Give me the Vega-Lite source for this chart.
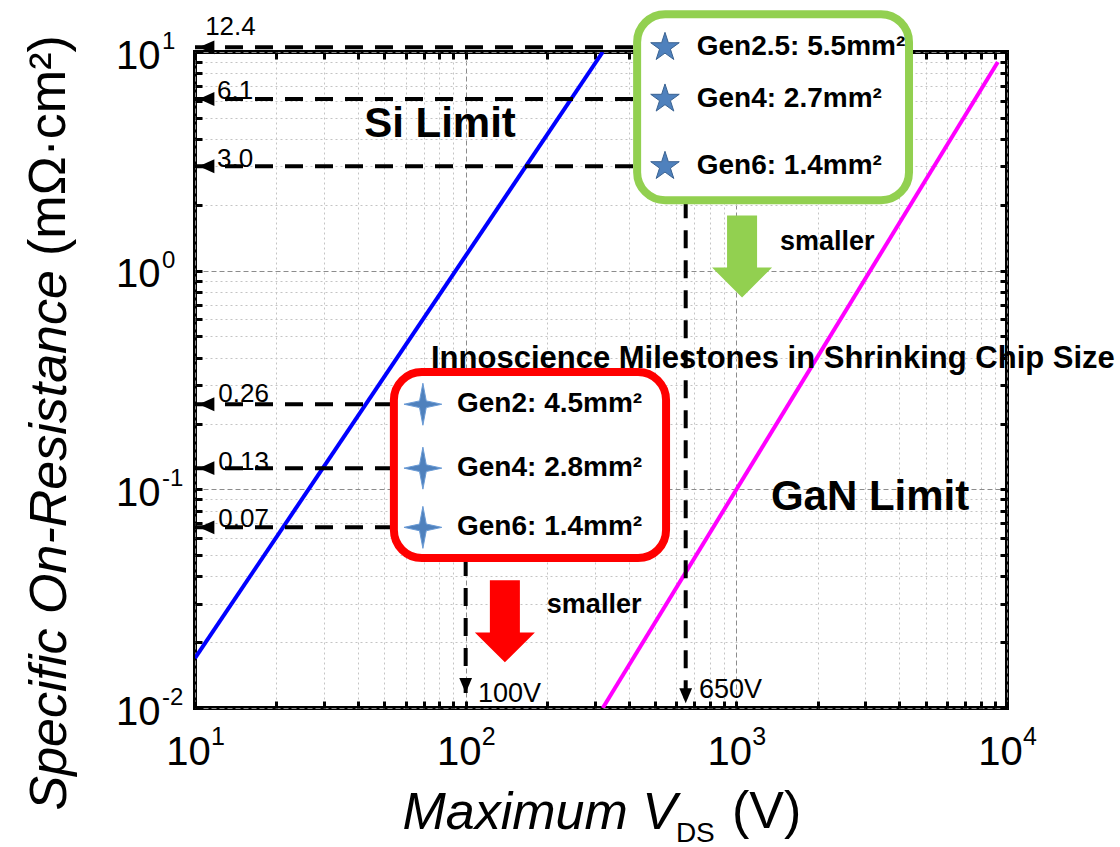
{
  "$schema": "https://vega.github.io/schema/vega-lite/v6.json",
  "width": 812,
  "height": 656,
  "autosize": {"type": "none"},
  "padding": {"left": 195, "top": 52, "right": 113, "bottom": 139},
  "background": "white",
  "config": {"view": {"stroke": "black", "strokeWidth": 4}, "font": "Liberation Sans"},
  "resolve": {"axis": {"x": "independent", "y": "independent"}},
  "datasets": {
    "si": [{"V": 10, "R": 0.0169}, {"V": 321, "R": 10}],
    "gan": [{"V": 321, "R": 0.01}, {"V": 9250, "R": 9.0}],
    "gens": [
      {"device": "650V", "gen": "Gen2.5: 5.5mm²", "R": 10.5, "Vstart": 10, "Vend": 430, "starV": 545, "textV": 714},
      {"device": "650V", "gen": "Gen4: 2.7mm²", "R": 6.1, "Vstart": 10, "Vend": 430, "starV": 545, "textV": 714},
      {"device": "650V", "gen": "Gen6: 1.4mm²", "R": 3.0, "Vstart": 10, "Vend": 430, "starV": 545, "textV": 714},
      {"device": "100V", "gen": "Gen2: 4.5mm²", "R": 0.245, "Vstart": 10, "Vend": 54.3, "starV": 69.5, "textV": 92.9},
      {"device": "100V", "gen": "Gen4: 2.8mm²", "R": 0.125, "Vstart": 10, "Vend": 54.3, "starV": 69.5, "textV": 92.9},
      {"device": "100V", "gen": "Gen6: 1.4mm²", "R": 0.067, "Vstart": 10, "Vend": 54.3, "starV": 69.5, "textV": 92.9}
    ],
    "vals": [
      {"label": "12.4", "V": 10.9, "R": 11.96},
      {"label": "6.1", "V": 12.06, "R": 6.1},
      {"label": "3.0", "V": 12.06, "R": 2.98},
      {"label": "0.26", "V": 12.2, "R": 0.251},
      {"label": "0.13", "V": 12.2, "R": 0.1227},
      {"label": "0.07", "V": 12.2, "R": 0.0673}
    ],
    "vlines": [
      {"device": "100V", "V": 100, "Rtop": 0.0485, "Rtip": 0.0117},
      {"device": "650V", "V": 650, "Rtop": 2.10, "Rtip": 0.0105}
    ],
    "vlabels": [
      {"label": "100V", "V": 111, "R": 0.01065},
      {"label": "650V", "V": 728, "R": 0.01111}
    ],
    "boxes": [
      {"device": "650V", "V1": 430, "V2": 4345, "R1": 14.9, "R2": 2.10},
      {"device": "100V", "V1": 54.3, "V2": 550, "R1": 0.344, "R2": 0.0485}
    ],
    "arrows": [
      {"device": "650V", "V": 1050, "R": 1.161},
      {"device": "100V", "V": 139.6, "R": 0.0249}
    ],
    "limits": [
      {"text": "Si Limit", "V": 80.4, "R": 4.08},
      {"text": "GaN Limit", "V": 3120, "R": 0.0805}
    ],
    "headline": [
      {"text": "Innoscience Milestones in Shrinking Chip Size", "V": 1365, "R": 0.359}
    ],
    "smaller": [
      {"text": "smaller", "V": 1449, "R": 1.243},
      {"text": "smaller", "V": 199.5, "R": 0.0272}
    ],
    "xexp": [{"V": 10, "e": "1"}, {"V": 100, "e": "2"}, {"V": 1000, "e": "3"}, {"V": 10000, "e": "4"}],
    "yexp": [{"R": 0.01, "e": "-2"}, {"R": 0.1, "e": "-1"}, {"R": 1, "e": "0"}, {"R": 10, "e": "1"}],
    "ytitle": [{"text": "(mΩ·cm²)", "V": 3.31, "R": 1.167}],
    "xsub": [{"text": "DS", "V": 598, "R": 0.00244}],
    "xunit": [{"text": "(V)", "V": 963, "R": 0.002825}]
  },
  "layer": [
    {
      "data": {"name": "si"},
      "mark": {"type": "line", "color": "#0000ff", "strokeWidth": 4, "clip": true},
      "encoding": {
        "x": {
          "field": "V", "type": "quantitative",
          "scale": {"type": "log", "domain": [10, 10000], "nice": false},
          "axis": {
            "orient": "bottom",
            "values": [10,20,30,40,50,60,70,80,90,100,200,300,400,500,600,700,800,900,1000,2000,3000,4000,5000,6000,7000,8000,9000,10000],
            "labelExpr": "abs(log(datum.value)/LN10 - round(log(datum.value)/LN10)) < 0.001 ? '10' : ''",
            "labelFont": "Liberation Sans", "labelFontSize": 40, "labelColor": "black",
            "labelPadding": 31, "labelOffset": -7, "labelFlush": false, "labelOverlap": false, "labelBound": false,
            "tickSize": -7,
            "tickWidth": 3, "tickColor": "black",
            "domain": false,
            "grid": true, "gridWidth": 1,
            "gridColor": {"condition": {"test": "abs(log(datum.value)/LN10 - round(log(datum.value)/LN10)) < 0.001", "value": "#8c8c8c"}, "value": "#c4c4c4"},
            "gridDash": {"condition": {"test": "abs(log(datum.value)/LN10 - round(log(datum.value)/LN10)) < 0.001", "value": [5, 3]}, "value": [2, 3]},
            "title": "Maximum V",
            "titleFont": "Liberation Sans", "titleFontSize": 52, "titleFontStyle": "italic", "titleFontWeight": "normal", "titleColor": "black",
            "titleAlign": "left", "titleBaseline": "alphabetic", "titleX": 207, "titleY": 120
          }
        },
        "y": {
          "field": "R", "type": "quantitative",
          "scale": {"type": "log", "domain": [0.01, 10], "nice": false},
          "axis": {
            "orient": "left",
            "values": [0.01,0.02,0.03,0.04,0.05,0.06,0.07,0.08,0.09,0.1,0.2,0.3,0.4,0.5,0.6,0.7,0.8,0.9,1,2,3,4,5,6,7,8,9,10],
            "labelExpr": "abs(log(datum.value)/LN10 - round(log(datum.value)/LN10)) < 0.001 ? '10' : ''",
            "labelFont": "Liberation Sans", "labelFontSize": 40, "labelColor": "black",
            "labelPadding": 42, "labelOffset": 4, "labelFlush": false, "labelOverlap": false, "labelBound": false, "labelBaseline": "middle",
            "tickSize": -7,
            "tickWidth": 3, "tickColor": "black",
            "domain": false,
            "grid": true, "gridWidth": 1,
            "gridColor": {"condition": {"test": "abs(log(datum.value)/LN10 - round(log(datum.value)/LN10)) < 0.001", "value": "#8c8c8c"}, "value": "#c4c4c4"},
            "gridDash": {"condition": {"test": "abs(log(datum.value)/LN10 - round(log(datum.value)/LN10)) < 0.001", "value": [5, 3]}, "value": [2, 3]},
            "title": "Specific On-Resistance",
            "titleFont": "Liberation Sans", "titleFontSize": 52, "titleFontStyle": "italic", "titleFontWeight": "normal", "titleColor": "black",
            "titleAngle": 270, "titleAlign": "left", "titleBaseline": "alphabetic", "titleX": -130, "titleY": 758
          }
        }
      }
    },
    {
      "data": {"name": "gan"},
      "mark": {"type": "line", "color": "#ff00ff", "strokeWidth": 4, "clip": true},
      "encoding": {
        "x": {
          "field": "V", "type": "quantitative",
          "axis": {
            "orient": "top",
            "values": [10,20,30,40,50,60,70,80,90,100,200,300,400,500,600,700,800,900,1000,2000,3000,4000,5000,6000,7000,8000,9000,10000],
            "labels": false, "grid": false, "title": null, "domain": false,
            "tickSize": -7, "tickWidth": 3, "tickColor": "black"
          }
        },
        "y": {
          "field": "R", "type": "quantitative",
          "axis": {
            "orient": "right",
            "values": [0.01,0.02,0.03,0.04,0.05,0.06,0.07,0.08,0.09,0.1,0.2,0.3,0.4,0.5,0.6,0.7,0.8,0.9,1,2,3,4,5,6,7,8,9,10],
            "labels": false, "grid": false, "title": null, "domain": false,
            "tickSize": -7, "tickWidth": 3, "tickColor": "black"
          }
        }
      }
    },
    {
      "data": {"name": "gens"},
      "mark": {"type": "rule", "color": "black", "strokeWidth": 4, "strokeDash": [18, 12]},
      "encoding": {
        "x": {"field": "Vstart", "type": "quantitative", "axis": null},
        "x2": {"field": "Vend"},
        "y": {"field": "R", "type": "quantitative", "axis": null}
      }
    },
    {
      "data": {"name": "gens"},
      "mark": {"type": "point", "shape": "M0.5,0 L2.5,-0.9 L2.5,0.9 Z", "filled": true, "color": "black", "size": 240, "opacity": 1, "strokeWidth": 0},
      "encoding": {
        "x": {"field": "Vstart", "type": "quantitative", "axis": null},
        "y": {"field": "R", "type": "quantitative", "axis": null}
      }
    },
    {
      "data": {"name": "vlines"},
      "mark": {"type": "rule", "color": "black", "strokeWidth": 4, "strokeDash": [18, 12]},
      "encoding": {
        "x": {"field": "V", "type": "quantitative", "axis": null},
        "y": {"field": "Rtop", "type": "quantitative", "axis": null},
        "y2": {"field": "Rtip"}
      }
    },
    {
      "data": {"name": "vlines"},
      "mark": {"type": "point", "shape": "M0,0 L-0.85,-2 L0.85,-2 Z", "filled": true, "color": "black", "size": 225, "opacity": 1, "strokeWidth": 0},
      "encoding": {
        "x": {"field": "V", "type": "quantitative", "axis": null},
        "y": {"field": "Rtip", "type": "quantitative", "axis": null}
      }
    },
    {
      "data": {"name": "boxes"},
      "mark": {"type": "rect", "fill": "white", "strokeWidth": 8, "cornerRadius": 28},
      "encoding": {
        "x": {"field": "V1", "type": "quantitative", "axis": null},
        "x2": {"field": "V2"},
        "y": {"field": "R1", "type": "quantitative", "axis": null},
        "y2": {"field": "R2"},
        "stroke": {"field": "device", "type": "nominal", "scale": {"domain": ["650V", "100V"], "range": ["#92d050", "#ff0000"]}, "legend": null}
      }
    },
    {
      "data": {"name": "gens"},
      "mark": {"type": "text", "align": "left", "baseline": "middle", "font": "Liberation Sans", "fontSize": 28, "fontWeight": "bold", "color": "black"},
      "encoding": {
        "x": {"field": "textV", "type": "quantitative", "axis": null},
        "y": {"field": "R", "type": "quantitative", "axis": null},
        "text": {"field": "gen"}
      }
    },
    {
      "data": {"name": "vals"},
      "mark": {"type": "text", "align": "left", "baseline": "alphabetic", "font": "Liberation Sans", "fontSize": 26, "color": "black"},
      "encoding": {
        "x": {"field": "V", "type": "quantitative", "axis": null},
        "y": {"field": "R", "type": "quantitative", "axis": null},
        "text": {"field": "label"}
      }
    },
    {
      "data": {"name": "vlabels"},
      "mark": {"type": "text", "align": "left", "baseline": "alphabetic", "font": "Liberation Sans", "fontSize": 27, "color": "black"},
      "encoding": {
        "x": {"field": "V", "type": "quantitative", "axis": null},
        "y": {"field": "R", "type": "quantitative", "axis": null},
        "text": {"field": "label"}
      }
    },
    {
      "data": {"name": "limits"},
      "mark": {"type": "text", "align": "center", "baseline": "alphabetic", "font": "Liberation Sans", "fontSize": 42, "fontWeight": "bold", "color": "black"},
      "encoding": {
        "x": {"field": "V", "type": "quantitative", "axis": null},
        "y": {"field": "R", "type": "quantitative", "axis": null},
        "text": {"field": "text"}
      }
    },
    {
      "data": {"name": "headline"},
      "mark": {"type": "text", "align": "center", "baseline": "alphabetic", "font": "Liberation Sans", "fontSize": 31, "fontWeight": "bold", "color": "black"},
      "encoding": {
        "x": {"field": "V", "type": "quantitative", "axis": null},
        "y": {"field": "R", "type": "quantitative", "axis": null},
        "text": {"field": "text"}
      }
    },
    {
      "data": {"name": "smaller"},
      "mark": {"type": "text", "align": "left", "baseline": "alphabetic", "font": "Liberation Sans", "fontSize": 27, "fontWeight": "bold", "color": "black"},
      "encoding": {
        "x": {"field": "V", "type": "quantitative", "axis": null},
        "y": {"field": "R", "type": "quantitative", "axis": null},
        "text": {"field": "text"}
      }
    },
    {
      "data": {"name": "xexp"},
      "mark": {"type": "text", "align": "left", "baseline": "alphabetic", "font": "Liberation Sans", "fontSize": 25, "color": "black", "dx": 16, "dy": 37},
      "encoding": {
        "x": {"field": "V", "type": "quantitative", "axis": null},
        "y": {"datum": 0.01, "type": "quantitative", "axis": null},
        "text": {"field": "e"}
      }
    },
    {
      "data": {"name": "yexp"},
      "mark": {"type": "text", "align": "left", "baseline": "alphabetic", "font": "Liberation Sans", "fontSize": 24, "color": "black", "dx": -33, "dy": -3},
      "encoding": {
        "x": {"datum": 10, "type": "quantitative", "axis": null},
        "y": {"field": "R", "type": "quantitative", "axis": null},
        "text": {"field": "e"}
      }
    },
    {
      "data": {"name": "ytitle"},
      "mark": {"type": "text", "align": "left", "baseline": "alphabetic", "angle": 270, "font": "Liberation Sans", "fontSize": 52, "color": "black"},
      "encoding": {
        "x": {"field": "V", "type": "quantitative", "axis": null},
        "y": {"field": "R", "type": "quantitative", "axis": null},
        "text": {"field": "text"}
      }
    },
    {
      "data": {"name": "xsub"},
      "mark": {"type": "text", "align": "left", "baseline": "alphabetic", "font": "Liberation Sans", "fontSize": 28, "color": "black"},
      "encoding": {
        "x": {"field": "V", "type": "quantitative", "axis": null},
        "y": {"field": "R", "type": "quantitative", "axis": null},
        "text": {"field": "text"}
      }
    },
    {
      "data": {"name": "xunit"},
      "mark": {"type": "text", "align": "left", "baseline": "alphabetic", "font": "Liberation Sans", "fontSize": 52, "color": "black"},
      "encoding": {
        "x": {"field": "V", "type": "quantitative", "axis": null},
        "y": {"field": "R", "type": "quantitative", "axis": null},
        "text": {"field": "text"}
      }
    },
    {
      "data": {"name": "arrows"},
      "mark": {"type": "point", "shape": "M-0.366,-1 L0.366,-1 L0.366,0.27 L0.732,0.27 L0,1 L-0.732,0.27 L-0.366,0.27 Z", "filled": true, "size": 6724, "opacity": 1, "strokeWidth": 0},
      "encoding": {
        "x": {"field": "V", "type": "quantitative", "axis": null},
        "y": {"field": "R", "type": "quantitative", "axis": null},
        "color": {"field": "device", "type": "nominal", "scale": {"domain": ["650V", "100V"], "range": ["#92d050", "#ff0000"]}, "legend": null}
      }
    },
    {
      "data": {"name": "gens"},
      "transform": [{"filter": "datum.device === '100V'"}],
      "mark": {"type": "point", "shape": "M0,-1 L0.16,-0.16 L0.9,0 L0.16,0.16 L0,1 L-0.16,0.16 L-0.9,0 L-0.16,-0.16 Z", "filled": true, "fill": "#4f81bd", "stroke": "#6a9bd6", "strokeWidth": 1, "size": 1764, "opacity": 1},
      "encoding": {
        "x": {"field": "starV", "type": "quantitative", "axis": null},
        "y": {"field": "R", "type": "quantitative", "axis": null}
      }
    },
    {
      "data": {"name": "gens"},
      "transform": [{"filter": "datum.device === '650V'"}],
      "mark": {"type": "point", "shape": "M0,-1 L0.2245,-0.309 L0.951,-0.309 L0.363,0.118 L0.588,0.809 L0,0.382 L-0.588,0.809 L-0.363,0.118 L-0.951,-0.309 L-0.2245,-0.309 Z", "filled": true, "fill": "#4f81bd", "stroke": "#3a6291", "strokeWidth": 1, "size": 900, "opacity": 1},
      "encoding": {
        "x": {"field": "starV", "type": "quantitative", "axis": null},
        "y": {"field": "R", "type": "quantitative", "axis": null}
      }
    }
  ]
}
